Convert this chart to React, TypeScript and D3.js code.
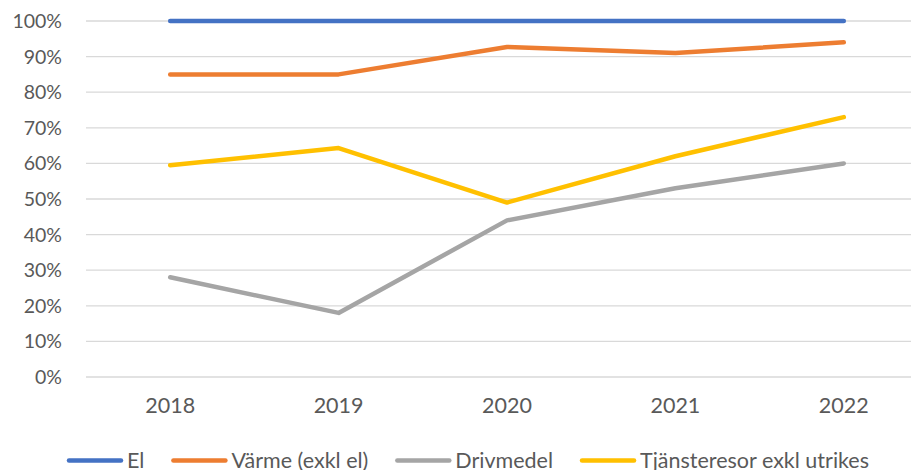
import React, { useEffect, useRef } from "react";
import * as d3 from "d3";

const years = ["2018", "2019", "2020", "2021", "2022"];
const el = [100, 100, 100, 100, 100];
const varme = [85, 85, 92.7, 91, 94];
const drivmedel = [28, 18, 44, 53, 60];
const tjansteresor = [59.5, 64.3, 49, 62, 73];
const yTicks = [0, 10, 20, 30, 40, 50, 60, 70, 80, 90, 100];
const seriesNames = ["El", "Värme (exkl el)", "Drivmedel", "Tjänsteresor exkl utrikes"];
const colors = ["#4472C4", "#ED7D31", "#A5A5A5", "#FFC000"];

const W = 911;
const H = 470;
const FONT = "Lato, 'Open Sans', sans-serif";

export default function App() {
  const ref = useRef<SVGSVGElement>(null);
  useEffect(() => {
    const svg = d3.select(ref.current);
    svg.selectAll("*").remove();
    const left = 86, right = 928, top = 21, bottom = 377;
    const x = d3.scaleBand<string>().domain(years).range([left, right]);
    const y = d3.scaleLinear().domain([0, 100]).range([bottom, top]);

    const g = svg.append("g");
    g.selectAll("line.grid").data(yTicks).enter().append("line")
      .attr("x1", left).attr("x2", right)
      .attr("y1", (d) => y(d)).attr("y2", (d) => y(d))
      .attr("stroke", "#D9D9D9").attr("stroke-width", 1.3);

    g.selectAll("text.ytick").data(yTicks).enter().append("text")
      .attr("x", 62).attr("y", (d) => y(d)).attr("dy", "0.36em")
      .attr("text-anchor", "end").attr("fill", "#595959")
      .style("font-family", FONT).style("font-size", "19.5px")
      .text((d) => `${d}%`);

    g.selectAll("text.xtick").data(years).enter().append("text")
      .attr("x", (d) => (x(d) as number) + x.bandwidth() / 2).attr("y", 405)
      .attr("dy", "0.36em").attr("text-anchor", "middle").attr("fill", "#595959")
      .style("font-family", FONT).style("font-size", "21.5px")
      .text((d) => d);

    const data = [el, varme, drivmedel, tjansteresor];
    const line = d3.line<number>()
      .x((_, i) => (x(years[i]) as number) + x.bandwidth() / 2)
      .y((d) => y(d));
    [0, 1, 2, 3].forEach((k) => {
      g.append("path").datum(data[k]).attr("d", line)
        .attr("fill", "none").attr("stroke", colors[k]).attr("stroke-width", 4.5)
        .attr("stroke-linecap", "round").attr("stroke-linejoin", "round");
    });

    // legend
    const ly = 460.5;
    let cx = 69;
    seriesNames.forEach((name, k) => {
      g.append("line").attr("x1", cx).attr("x2", cx + 52).attr("y1", ly).attr("y2", ly)
        .attr("stroke", colors[k]).attr("stroke-width", 4.5).attr("stroke-linecap", "round");
      const t = g.append("text").attr("x", cx + 58).attr("y", ly).attr("dy", "0.36em")
        .attr("fill", "#595959").style("font-family", FONT).style("font-size", "21.5px")
        .text(name);
      const w = (t.node() as SVGTextElement).getComputedTextLength();
      cx = cx + 58 + w + 29;
    });
  }, []);
  return <svg ref={ref} width={W} height={H} style={{ display: "block", position: "absolute", left: 0, top: 0 }} />;
}
